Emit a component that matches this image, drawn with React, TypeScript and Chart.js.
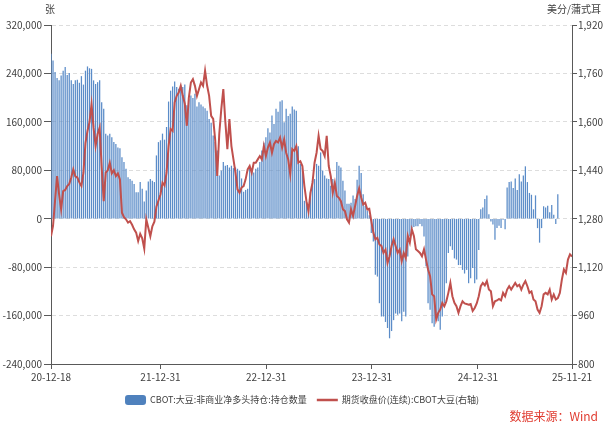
import React, { useEffect, useRef } from 'react';
import { Chart, registerables } from 'chart.js';

Chart.register(...registerables);

// ---------- data ----------
const START_DATE = '2020-12-18';
const END_DATE = '2025-11-21';
const xTickDates = ['2020-12-18', '2021-12-31', '2022-12-31', '2023-12-31', '2024-12-31', '2025-11-21'];
const xTickLabels = ['20-12-18', '21-12-31', '22-12-31', '23-12-31', '24-12-31', '25-11-21'];

const leftUnit = '张';
const rightUnit = '美分/蒲式耳';
const legendBar = 'CBOT:大豆:非商业净多头持仓:持仓数量';
const legendLine = '期货收盘价(连续):CBOT大豆(右轴)';
const sourceText = '数据来源：Wind';

const LEFT_MIN = -240000;
const LEFT_MAX = 320000;
const LEFT_STEP = 80000;
const RIGHT_MIN = 800;
const RIGHT_MAX = 1920;
const RIGHT_STEP = 160;

// weekly observations (7 days apart, from START_DATE)
const WEEK_DAYS = 7;

// CBOT soybean non-commercial net long (thousand contracts), weekly
const netLongK = [
  272, 261, 242, 232, 228, 236, 244, 250, 237, 240,
  228, 222, 228, 229, 224, 235, 221, 244, 251, 248,
  247, 228, 222, 225, 228, 192, 181, 140, 137, 140,
  134, 126, 123, 117, 116, 101, 93, 82, 68, 65,
  62, 57, 43, 43, 60, 49, 28, 46, 61, 65,
  62, 60, 104, 126, 129, 140, 130, 151, 193, 211,
  218, 226, 217, 214, 220, 217, 221, 187, 197, 203,
  199, 206, 185, 192, 188, 185, 182, 178, 164, 158,
  137, 126, 112, 71, 79, 93, 87, 88, 84, 87,
  83, 84, 82, 79, 66, 44, 47, 49, 83, 80,
  76, 82, 84, 93, 112, 125, 134, 149, 142, 170,
  156, 181, 176, 193, 195, 159, 181, 169, 173, 185,
  180, 178, 119, 90, 83, 29, 28, 24, 43, 62,
  65, 90, 87, 109, 79, 71, 66, 65, 54, 65,
  54, 93, 87, 84, 62, 46, 24, 24, 26, 38,
  32, 64, 87, 75, 40, 21, 13, 5, -23, -37,
  -92, -95, -139, -161, -161, -170, -180, -197, -185, -167,
  -156, -158, -156, -169, -153, -161, -62, -29, -15, -13,
  -12, -12, -8, -12, -29, -78, -139, -150, -172, -178,
  -161, -169, -183, -161, -139, -106, -56, -45, -51, -65,
  -67, -76, -76, -84, -90, -84, -106, -98, -81, -106,
  -100, -51, 15, 18, 32, 38, 7, -4, -9, -34,
  -15, -11, -15, -1, -17, 51, 60, 61, 50, 66,
  47, 73, 61, 71, 86, 60, 42, 39, 15, 38,
  -15, -39, -15, 20, 18, 21, 10, 22, 6, -8,
  40,
];

// CBOT soybean continuous futures close (US cents / bushel), weekly
const settleWeekly = [
  1222, 1256, 1340, 1421, 1360, 1311, 1371, 1375, 1388, 1395,
  1416, 1443, 1420, 1416, 1400, 1388, 1432, 1530, 1570, 1600,
  1658, 1580, 1520, 1560, 1581, 1450, 1338, 1432, 1440, 1465,
  1430, 1440, 1421, 1430, 1410, 1300, 1285, 1278, 1267, 1272,
  1260, 1245, 1234, 1206, 1230, 1215, 1181, 1278, 1250, 1222,
  1255, 1270, 1320, 1340, 1360, 1399, 1390, 1432, 1520, 1576,
  1570, 1664, 1686, 1697, 1719, 1686, 1660, 1587, 1680, 1730,
  1741, 1719, 1686, 1708, 1730, 1719, 1769, 1720, 1686, 1620,
  1610, 1540, 1421, 1560, 1642, 1708, 1600, 1510, 1609, 1520,
  1476, 1432, 1377, 1366, 1383, 1388, 1410, 1443, 1454, 1432,
  1465, 1465, 1476, 1487, 1476, 1520, 1487, 1515, 1532, 1498,
  1526, 1537, 1532, 1548, 1515, 1542, 1498, 1476, 1427, 1510,
  1504, 1520, 1465, 1470, 1454, 1388, 1338, 1305, 1366, 1399,
  1465, 1498, 1554, 1510, 1504, 1487, 1554, 1454, 1421, 1366,
  1399, 1355, 1349, 1338, 1311, 1305, 1278, 1267, 1311, 1289,
  1322, 1355, 1380, 1350, 1327, 1333, 1311, 1313, 1272, 1234,
  1212, 1217, 1195, 1190, 1167, 1178, 1134, 1156, 1190, 1212,
  1190, 1167, 1178, 1140, 1167, 1150, 1223, 1201, 1245, 1223,
  1179, 1173, 1167, 1156, 1179, 1145, 1112, 1090, 1030, 1024,
  947, 969, 980, 1002, 991, 1007, 1035, 1068, 1024, 1002,
  991, 969, 991, 1007, 1000, 998, 996, 998, 975, 985,
  1000, 1024, 1057, 1068, 1060, 1074, 1046, 1040, 991, 1007,
  1010, 1015, 1010, 1035, 1024, 1046, 1057, 1046, 1057, 1068,
  1057, 1062, 1046, 1062, 1074, 1057, 1035, 1040, 1013, 1007,
  980, 969, 991, 1030, 1035, 1030, 1046, 1013, 1030, 1013,
  1018, 1035, 1079, 1112, 1101, 1145, 1162, 1155,
];

// ---------- styles ----------
const FONT = "'Noto Sans CJK SC', 'Noto Sans', sans-serif";
const BAR_COLOR = '#5b8cc8';
const LEGEND_BAR_COLOR = '#4f81bd';
const LINE_COLOR = '#c0504d';
const AXIS_COLOR = '#595959';
const TEXT_COLOR = '#404040';
const GRID_COLOR = '#dddddd';

const dayOf = (d: string) => Math.round((Date.parse(d) - Date.parse(START_DATE)) / 86400000);
const tickDays = xTickDates.map(dayOf);
const totalDays = dayOf(END_DATE);

const overlayPlugin = {
  id: 'overlay',
  afterDraw(chart: any) {
    const ctx: CanvasRenderingContext2D = chart.ctx;
    const area = chart.chartArea;
    ctx.save();
    ctx.textBaseline = 'middle';
    ctx.fillStyle = TEXT_COLOR;
    ctx.font = `10px ${FONT}`;
    ctx.textAlign = 'center';
    ctx.fillText(leftUnit, area.left - 1, 9);
    ctx.textAlign = 'right';
    ctx.fillText(rightUnit, chart.width - 3, 9);

    // legend
    ctx.font = `9px ${FONT}`;
    const w1 = ctx.measureText(legendBar).width;
    const w2 = ctx.measureText(legendLine).width;
    const sw = 21;
    const gap = 4;
    const between = 10;
    const total = sw + gap + w1 + between + sw + gap + w2;
    let x = chart.width / 2 - total / 2;
    const y = 400;
    ctx.fillStyle = LEGEND_BAR_COLOR;
    ctx.beginPath();
    (ctx as any).roundRect(x, y - 5, sw, 10, 3);
    ctx.fill();
    x += sw + gap;
    ctx.fillStyle = TEXT_COLOR;
    ctx.textAlign = 'left';
    ctx.fillText(legendBar, x, y);
    x += w1 + between;
    ctx.strokeStyle = LINE_COLOR;
    ctx.lineWidth = 2.5;
    ctx.beginPath();
    ctx.moveTo(x, y);
    ctx.lineTo(x + sw, y);
    ctx.stroke();
    x += sw + gap;
    ctx.fillText(legendLine, x, y);

    // source
    ctx.font = `12px ${FONT}`;
    ctx.fillStyle = '#e03c31';
    ctx.textAlign = 'right';
    ctx.fillText(sourceText, chart.width - 6, 416);
    ctx.restore();
  },
};

export default function App() {
  const canvasRef = useRef<HTMLCanvasElement | null>(null);

  useEffect(() => {
    document.body.style.margin = '0';
    const canvas = canvasRef.current;
    if (!canvas) return;

    const barData = netLongK.map((v, i) => ({ x: i * WEEK_DAYS, y: v * 1000 }));
    const lineData = settleWeekly.map((v, i) => ({ x: i * WEEK_DAYS, y: v }));

    const chart = new Chart(canvas, {
      type: 'bar',
      data: {
        datasets: [
          {
            type: 'line',
            label: legendLine,
            data: lineData,
            yAxisID: 'y1',
            borderColor: LINE_COLOR,
            borderWidth: 2,
            pointRadius: 0,
            tension: 0,
            order: 0,
          } as any,
          {
            type: 'bar',
            label: legendBar,
            data: barData,
            yAxisID: 'y',
            backgroundColor: BAR_COLOR,
            barThickness: 0.6,
            order: 1,
          } as any,
        ],
      },
      options: {
        animation: false,
        responsive: false,
        maintainAspectRatio: false,
        events: [],
        layout: { padding: { top: 25, bottom: 41, left: 0, right: 0 } },
        plugins: { legend: { display: false }, tooltip: { enabled: false } },
        scales: {
          x: {
            type: 'linear',
            min: 0,
            max: totalDays,
            offset: false,
            afterBuildTicks: (s: any) => {
              s.ticks = tickDays.map((v) => ({ value: v }));
            },
            afterFit: (s: any) => {
              s.height = 22;
            },
            ticks: {
              autoSkip: false,
              maxRotation: 0,
              minRotation: 0,
              padding: 2,
              color: TEXT_COLOR,
              font: { family: FONT, size: 10 },
              callback: (_v: any, i: number) => xTickLabels[i],
            },
            grid: {
              display: true,
              drawOnChartArea: false,
              offset: false,
              tickLength: 5,
              tickColor: AXIS_COLOR,
            },
            border: { display: true, color: AXIS_COLOR, width: 1 },
          } as any,
          y: {
            position: 'left',
            min: LEFT_MIN,
            max: LEFT_MAX,
            afterFit: (s: any) => {
              s.width = 51;
            },
            ticks: {
              stepSize: LEFT_STEP,
              padding: 2,
              color: TEXT_COLOR,
              font: { family: FONT, size: 10 },
            },
            grid: {
              color: GRID_COLOR,
              tickColor: AXIS_COLOR,
              tickLength: 7,
              tickBorderDash: [],
            },
            border: { display: true, color: AXIS_COLOR, dash: [4, 3] },
          } as any,
          y1: {
            position: 'right',
            min: RIGHT_MIN,
            max: RIGHT_MAX,
            afterFit: (s: any) => {
              s.width = 32;
            },
            ticks: {
              stepSize: RIGHT_STEP,
              padding: 1,
              color: TEXT_COLOR,
              font: { family: FONT, size: 10 },
            },
            grid: {
              drawOnChartArea: false,
              tickColor: AXIS_COLOR,
              tickLength: 5,
            },
            border: { display: true, color: AXIS_COLOR },
          } as any,
        },
      },
      plugins: [overlayPlugin],
    });

    return () => chart.destroy();
  }, []);

  return (
    <div style={{ width: 604, height: 427, position: 'relative', background: '#fff' }}>
      <canvas ref={canvasRef} width={604} height={427} style={{ display: 'block' }} />
    </div>
  );
}
